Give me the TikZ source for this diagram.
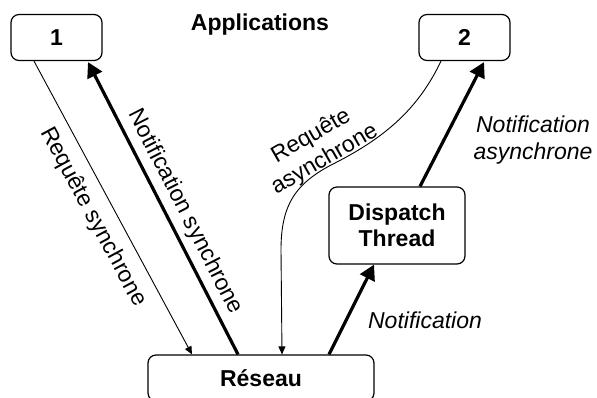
\documentclass[tikz,border=0pt]{standalone}
\usepackage{fontspec}
\setmainfont{Liberation Sans}
\usetikzlibrary{arrows.meta,calc}
\begin{document}
\begin{tikzpicture}[x=1pt,y=-1pt,
  box/.style={draw, line width=1.2pt, rounded corners=8pt, inner sep=0pt,
    font=\fontsize{23}{26}\selectfont\bfseries, align=center},
  lab/.style={font=\fontsize{23}{27}\selectfont, align=center, inner sep=0pt},
  reqarrow/.style={line width=0.9pt, -{Triangle[length=8pt,width=7pt]}},
  notifarrow/.style={line width=3.2pt, -{Triangle[length=15pt,width=16pt]}}]
\useasboundingbox (0,0) rectangle (597,397);
\clip (0,0) rectangle (597,397);

\node[box, minimum width=91pt, minimum height=46pt] (a1) at (56.5,37.5) {1};
\node[box, minimum width=91pt, minimum height=46pt] (a2) at (464.5,37.5) {2};
\node[box, minimum width=136pt, minimum height=77pt] (dt) at (397,225.5) {Dispatch\\Thread};
\node[box, minimum width=226pt, minimum height=46pt] (res) at (261,378) {Réseau};
\node[lab, font=\fontsize{23}{26}\selectfont\bfseries] (app) at (260,25) {Applications};

% synchronous request / notification
\draw[reqarrow] ([xshift=-22.5pt]a1.south) -- ([xshift=-69pt]res.north);
\node[lab, rotate=-61.6] (l1) at (93,217) {Requête synchrone};
\draw[notifarrow] ([xshift=-23pt]res.north) -- ([xshift=31.5pt,yshift=-1pt]a1.south);
\node[lab, rotate=-62.9] (l2) at (185,212) {Notification synchrone};

% asynchronous request
\draw[reqarrow] ([xshift=-23.5pt]a2.south) .. controls (420,105) and (390,135) .. (335,163)
  .. controls (295,183) and (281,205) .. (281,250) -- ([xshift=21pt]res.north);
\node[lab, rotate=30] (l3) at (318,148) {Requête\\asynchrone};

% asynchronous notification
\draw[notifarrow] ([xshift=68pt]res.north) -- ([xshift=-23pt]dt.south);
\node[lab, font=\fontsize{23}{27}\selectfont\itshape] (l4) at (425,320) {Notification};
\draw[notifarrow] ([xshift=23pt]dt.north) -- ([xshift=19.5pt,yshift=-1pt]a2.south);
\node[lab, font=\fontsize{23}{27}\selectfont\itshape] (l5) at (533,140) {Notification\\asynchrone};
\end{tikzpicture}
\end{document}
